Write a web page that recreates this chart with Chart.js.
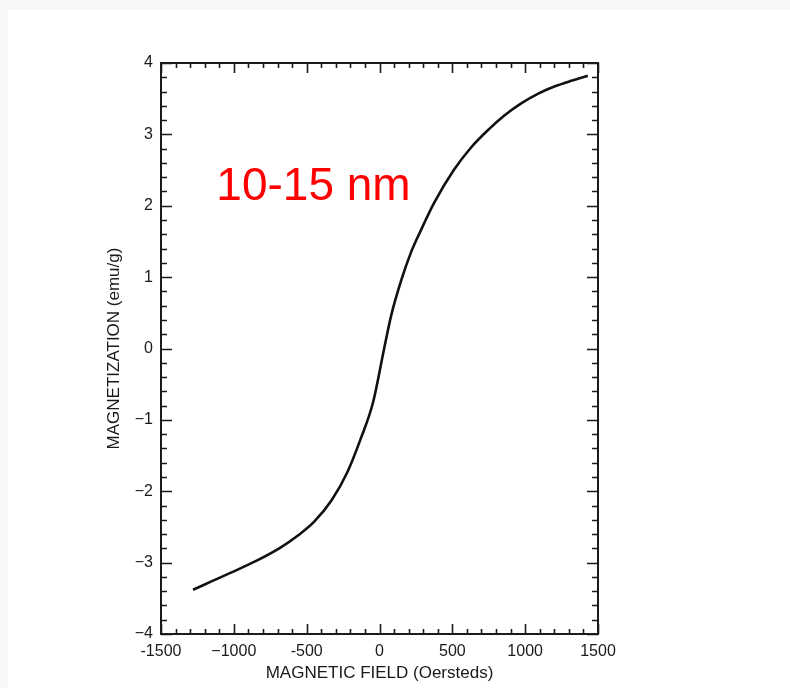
<!DOCTYPE html>
<html>
<head>
<meta charset="utf-8">
<script src="https://cdn.jsdelivr.net/npm/chart.js@4/dist/chart.umd.min.js"></script>
<style>
  html, body { margin: 0; padding: 0; background: #fff; }
  #chart { display: block; }
</style>
</head>
<body>
<canvas id="chart" width="790" height="688"></canvas>
<script>
// Data
const fieldOe = [-1280, -1150, -1020, -850, -680, -560, -450, -330, -220, -130, -45, 30, 80, 150, 215, 285, 375, 510, 630, 750, 855, 970, 1090, 1200, 1315, 1430];
const magnetization = [-3.38, -3.26, -3.14, -2.98, -2.79, -2.62, -2.43, -2.13, -1.73, -1.27, -0.76, -0.02, 0.46, 0.96, 1.34, 1.66, 2.04, 2.50, 2.82, 3.07, 3.26, 3.43, 3.57, 3.67, 3.75, 3.82];

// Tick labels as printed (mixed hyphen / minus like the scan)
const xTickLabels = ['-1500', '\u22121000', '-500', '0', '500', '1000', '1500'];
const yTickLabels = ['\u22124', '\u22123', '\u22122', '\u22121', '0', '1', '2', '3', '4'];

const sampleLabel = '10-15 nm';
const labelAt = { x: -1120, y: 2.08 };

const FONT = '"Liberation Sans", Arial, Helvetica, sans-serif';
const INK = '#1a1a1a';

// ─── Plugins ──────────────────────────────────────────────────────────────────
// gray scan margins at top / left
const pageFrame = {
  id: 'pageFrame',
  beforeDraw(chart) {
    const { ctx, width, height } = chart;
    ctx.save();
    ctx.fillStyle = '#ffffff';
    ctx.fillRect(0, 0, width, height);
    ctx.fillStyle = '#f7f7f7';
    ctx.fillRect(0, 0, width, 10);
    ctx.fillRect(0, 0, 8, height);
    ctx.restore();
  },
};

// box + inward ticks on all four sides
const inwardTicks = {
  id: 'inwardTicks',
  afterDatasetsDraw(chart) {
    const { ctx, chartArea: a, scales: { x, y } } = chart;
    ctx.save();
    ctx.strokeStyle = INK;
    ctx.lineWidth = 1.6;
    ctx.beginPath();
    for (let v = -1500; v <= 1500; v += 100) {
      const px = Math.round(x.getPixelForValue(v)) + 0.5;
      const len = v % 500 === 0 ? 10 : 5;
      ctx.moveTo(px, a.bottom); ctx.lineTo(px, a.bottom - len);
      ctx.moveTo(px, a.top); ctx.lineTo(px, a.top + len);
    }
    for (let i = -20; i <= 20; i++) {
      const v = i * 0.2;
      const py = Math.round(y.getPixelForValue(v)) + 0.5;
      const len = i % 5 === 0 ? 11 : 6;
      ctx.moveTo(a.left, py); ctx.lineTo(a.left + len, py);
      ctx.moveTo(a.right, py); ctx.lineTo(a.right - len, py);
    }
    ctx.stroke();
    ctx.lineWidth = 2;
    ctx.strokeRect(a.left, a.top, a.right - a.left, a.bottom - a.top);

    // sample size label
    ctx.fillStyle = '#ff0000';
    ctx.font = `46px ${FONT}`;
    ctx.textAlign = 'left';
    ctx.textBaseline = 'alphabetic';
    ctx.fillText(sampleLabel, x.getPixelForValue(labelAt.x), y.getPixelForValue(labelAt.y));
    ctx.restore();
  },
};

// ─── Chart ────────────────────────────────────────────────────────────────────
new Chart(document.getElementById('chart'), {
  type: 'line',
  data: {
    datasets: [{
      data: fieldOe.map((f, i) => ({ x: f, y: magnetization[i] })),
      borderColor: '#111',
      borderWidth: 2.6,
      pointRadius: 0,
      fill: false,
      cubicInterpolationMode: 'monotone',
    }],
  },
  options: {
    responsive: false,
    animation: false,
    devicePixelRatio: 1,
    layout: { padding: { left: 95, top: 63, right: 192, bottom: 0 } },
    plugins: { legend: { display: false }, tooltip: { enabled: false } },
    scales: {
      x: {
        type: 'linear',
        min: -1500, max: 1500,
        grid: { display: false, drawTicks: false },
        border: { display: false },
        ticks: {
          stepSize: 500,
          padding: 8,
          color: INK,
          font: { family: FONT, size: 16 },
          callback: (v) => xTickLabels[Math.round((v + 1500) / 500)],
        },
        title: {
          display: true,
          text: 'MAGNETIC FIELD (Oersteds)',
          color: INK,
          font: { family: FONT, size: 17 },
          padding: { top: 4, bottom: 4 },
        },
        afterFit: (s) => { s.height = 54; },
      },
      y: {
        type: 'linear',
        min: -4, max: 4,
        grid: { display: false, drawTicks: false },
        border: { display: false },
        ticks: {
          stepSize: 1,
          padding: 8,
          color: INK,
          font: { family: FONT, size: 16 },
          callback: (v) => yTickLabels[Math.round(v + 4)],
        },
        title: {
          display: true,
          text: 'MAGNETIZATION (emu/g)',
          color: INK,
          font: { family: FONT, size: 17 },
          padding: { top: 9, bottom: 0 },
        },
        afterFit: (s) => { s.width = 66; },
      },
    },
  },
  plugins: [pageFrame, inwardTicks],
});
</script>
</body>
</html>
